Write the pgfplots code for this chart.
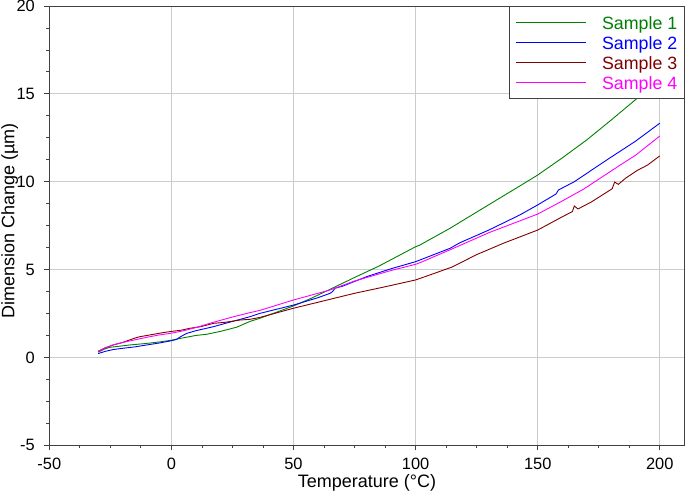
\documentclass[border=0pt]{standalone}
\usepackage{fontspec}
\setmainfont{Liberation Sans}
\usepackage{pgfplots}
\pgfplotsset{compat=1.18}
\definecolor{s1}{RGB}{0,128,0}
\definecolor{s2}{RGB}{0,0,255}
\definecolor{s3}{RGB}{128,0,0}
\definecolor{s4}{RGB}{255,0,255}
\definecolor{gridc}{RGB}{204,204,204}
\definecolor{axc}{RGB}{64,64,64}
\begin{document}
\begin{tikzpicture}
\useasboundingbox (-49.3bp,-46.7bp) rectangle (635.7bp,445.3bp);
\begin{axis}[
 at={(0,0)}, anchor=south west,
 scale only axis, width=635.4bp, height=439.3bp,
 xmin=-50, xmax=210.2, ymin=-5, ymax=20,
 xtick={-50,0,...,200}, ytick={-5,0,...,20},
 minor x tick num=3, minor y tick num=3,
 tick align=outside, xtick pos=bottom, ytick pos=left,
 major tick length=5bp, minor tick length=3bp,
 tick style={axc, line width=0.8bp},
 grid=major, grid style={gridc, line width=0.8bp},
 axis line style={axc, line width=0.9bp},
 /pgf/number format/assume math mode=true,
 ticklabel style={font=\fontsize{16.4bp}{18bp}\selectfont},
 xticklabel style={anchor=north, inner sep=0pt, yshift=-8bp},
 yticklabel style={anchor=east, inner sep=0pt, xshift=-9.3bp},
 xlabel={Temperature (°C)}, ylabel={Dimension Change (µm)},
 label style={font=\fontsize{18bp}{20bp}\selectfont},
 xlabel style={at={(axis description cs:0.5,-0.0965)}, anchor=base},
 ylabel style={at={(axis description cs:-0.0548,0.51)}, anchor=base, rotate=0},
 legend style={at={(1,1)}, anchor=north east, draw=axc, fill=white, line width=0.8bp,
   font=\fontsize{17.8bp}{20bp}\selectfont, inner xsep=6bp, inner ysep=5.85bp,
   row sep=0pt, column sep=0pt,
   nodes={inner sep=1bp, text height=16.5bp, text depth=1.5bp},
   /tikz/every odd column/.append style={column sep=15bp}},
 legend image code/.code={\draw[#1, line width=1bp] (0bp,0bp) -- (70bp,0bp);},
 legend cell align=left,
]
\addplot[s1, line width=0.9bp] coordinates {
(-30,0.3) (-27,0.5) (-25,0.58) (-20,0.66) (-17,0.71) (-10,0.80) (-5,0.88) (0,0.98)
(5,1.12) (10,1.25) (14.5,1.32) (20,1.48) (26.7,1.72) (32.2,2.05) (36.3,2.23) (40,2.42)
(50,2.93) (57,3.35) (65,3.88) (75,4.55) (85,5.2) (100,6.30) (101.8,6.40) (114.1,7.35)
(126.4,8.39) (142.7,9.76) (150,10.38) (160,11.35) (170.1,12.38) (180,13.5) (189.9,14.65) (200,15.85)};
\addlegendentry[text=s1]{Sample 1}
\addplot[s2, line width=0.9bp] coordinates {
(-30,0.22) (-27,0.35) (-23.8,0.45) (-20,0.52) (-15,0.6) (-10.1,0.71) (-5,0.82) (0,0.95)
(2,1.02) (4,1.2) (6.3,1.37) (10,1.52) (17.2,1.75) (25,2.05) (32.2,2.32) (36.3,2.51)
(50,2.98) (60,3.4) (65,3.65) (66,3.75) (67,3.94) (70,4.05) (80,4.6) (90,5.05) (100,5.45)
(114.1,6.21) (118.2,6.53) (130,7.25) (142.7,8.11) (150,8.68) (157.5,9.3) (158.5,9.53)
(165,10.0) (178.3,11.24) (190,12.3) (200,13.33)};
\addlegendentry[text=s2]{Sample 2}
\addplot[s3, line width=0.9bp] coordinates {
(-30,0.35) (-27,0.55) (-23.8,0.71) (-20,0.85) (-15,1.1) (-12.9,1.18) (-8,1.3) (-4,1.4)
(-0.6,1.47) (4,1.55) (7.6,1.66) (12,1.75) (17.2,1.94) (22,2.0) (28.1,2.13) (32.2,2.17)
(36.3,2.28) (50,2.80) (65,3.31) (75,3.65) (86.8,4.0) (100,4.41) (108,4.8) (115,5.15)
(125,5.85) (136,6.5) (150,7.25) (160,8.0) (164.2,8.3) (165,8.62) (166.5,8.45) (172,8.85)
(180.5,9.6) (181.5,9.98) (183,9.85) (186,10.2) (190.6,10.63) (195,10.95) (200,11.47)};
\addlegendentry[text=s3]{Sample 3}
\addplot[s4, line width=0.9bp] coordinates {
(-30,0.35) (-27,0.55) (-23.8,0.72) (-20,0.85) (-15,1.0) (-10,1.15) (-5,1.28) (0,1.38)
(5,1.52) (10,1.7) (17.2,2.0) (25,2.3) (32.2,2.55) (36.3,2.68) (50,3.27) (65,3.84)
(75,4.35) (90,4.95) (100,5.3) (101.8,5.39) (115.5,6.21) (130,7.1) (150,8.16) (160,8.9)
(168.7,9.57) (183.8,10.95) (190,11.5) (200,12.60)};
\addlegendentry[text=s4]{Sample 4}
\end{axis}
\end{tikzpicture}
\end{document}
